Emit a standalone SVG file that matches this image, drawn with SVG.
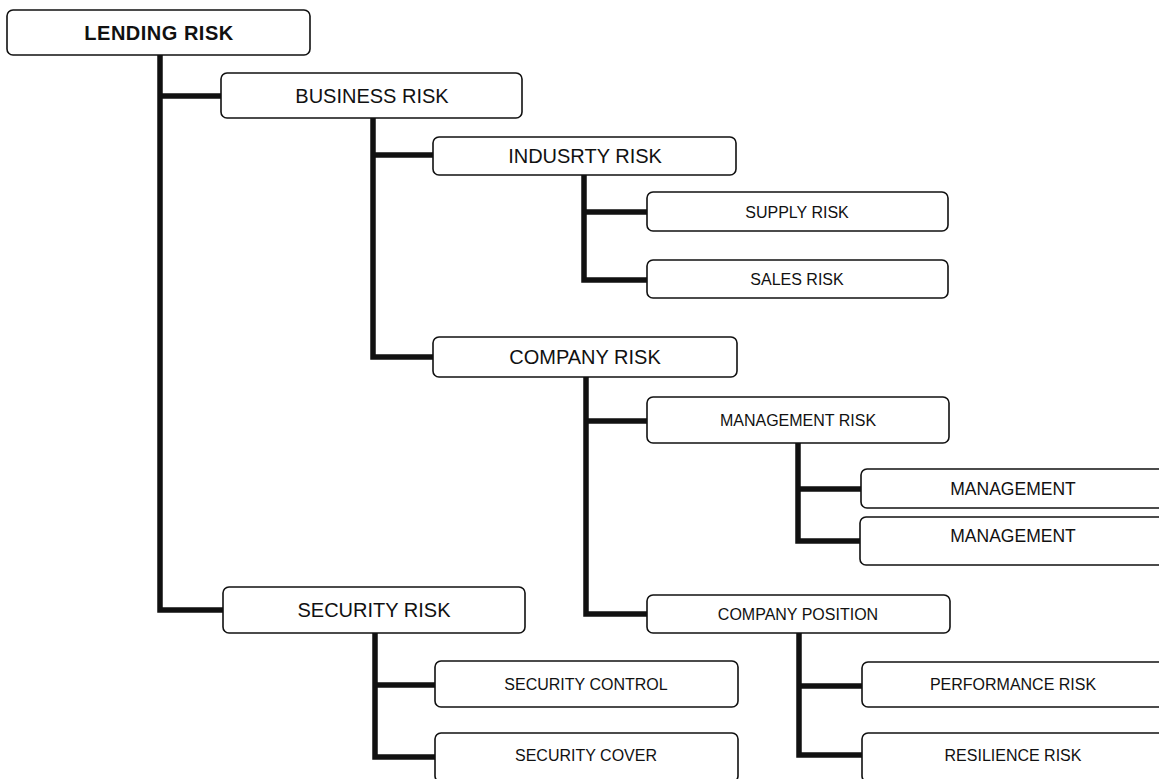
<svg xmlns="http://www.w3.org/2000/svg" width="1159" height="779" viewBox="0 0 1159 779">
<style>
.box{fill:#fff;stroke:#111;stroke-width:1.6}
.t{font-family:"Liberation Sans",Arial,sans-serif;fill:#111;text-anchor:middle}
.l1{font-size:20px}
.l0{font-size:20px;font-weight:bold}
.s{font-size:16px}
.m{font-size:17.5px}
.c{fill:none;stroke:#111;stroke-width:5.5;stroke-linejoin:miter;stroke-linecap:butt}
</style>
<rect width="1159" height="779" fill="#fff"/>
<g id="connectors">
<path class="c" d="M160,55 V610 H223 M160,96 H221"/>
<path class="c" d="M373,118 V357 H433 M373,155 H433"/>
<path class="c" d="M584,175 V280 H647 M584,212 H647"/>
<path class="c" d="M586,377 V614 H647 M586,421 H647"/>
<path class="c" d="M798,443 V541 H860 M798,489 H861"/>
<path class="c" d="M799,633 V755 H862 M799,686 H862"/>
<path class="c" d="M375,633 V757 H435 M375,685 H435"/>
</g>
<g id="lending-risk"><rect class="box" x="7" y="10" width="303" height="45" rx="6"/><text class="t l0" x="159" y="39.5" letter-spacing="0.5">LENDING RISK</text></g>
<g id="business-risk"><rect class="box" x="221" y="73" width="301" height="45" rx="6"/><text class="t l1" x="372" y="102.5">BUSINESS RISK</text></g>
<g id="industry-risk"><rect class="box" x="433" y="137" width="303" height="38" rx="6"/><text class="t l1" x="585" y="163">INDUSRTY RISK</text></g>
<g id="supply-risk"><rect class="box" x="647" y="192" width="301" height="39" rx="6"/><text class="t s" x="797" y="217.5">SUPPLY RISK</text></g>
<g id="sales-risk"><rect class="box" x="647" y="260" width="301" height="38" rx="6"/><text class="t s" x="797" y="285">SALES RISK</text></g>
<g id="company-risk"><rect class="box" x="433" y="337" width="304" height="40" rx="6"/><text class="t l1" x="585" y="364">COMPANY RISK</text></g>
<g id="management-risk"><rect class="box" x="647" y="397" width="302" height="46" rx="6"/><text class="t s" x="798" y="425.5">MANAGEMENT RISK</text></g>
<g id="management-1"><rect class="box" x="861" y="469" width="304" height="39" rx="6"/><text class="t m" x="1013" y="494.8">MANAGEMENT</text></g>
<g id="management-2"><rect class="box" x="860" y="517" width="305" height="48" rx="6"/><text class="t m" x="1013" y="541.5">MANAGEMENT</text></g>
<g id="company-position"><rect class="box" x="647" y="595" width="303" height="38" rx="6"/><text class="t s" x="798" y="619.5">COMPANY POSITION</text></g>
<g id="performance-risk"><rect class="box" x="862" y="662" width="303" height="45" rx="6"/><text class="t s" x="1013" y="690">PERFORMANCE RISK</text></g>
<g id="resilience-risk"><rect class="box" x="862" y="733" width="303" height="49" rx="6"/><text class="t s" x="1013" y="761">RESILIENCE RISK</text></g>
<g id="security-risk"><rect class="box" x="223" y="587" width="302" height="46" rx="6"/><text class="t l1" x="374" y="617">SECURITY RISK</text></g>
<g id="security-control"><rect class="box" x="435" y="661" width="303" height="46" rx="6"/><text class="t s" x="586" y="689.5">SECURITY CONTROL</text></g>
<g id="security-cover"><rect class="box" x="435" y="733" width="303" height="49" rx="6"/><text class="t s" x="586" y="761">SECURITY COVER</text></g>
</svg>
